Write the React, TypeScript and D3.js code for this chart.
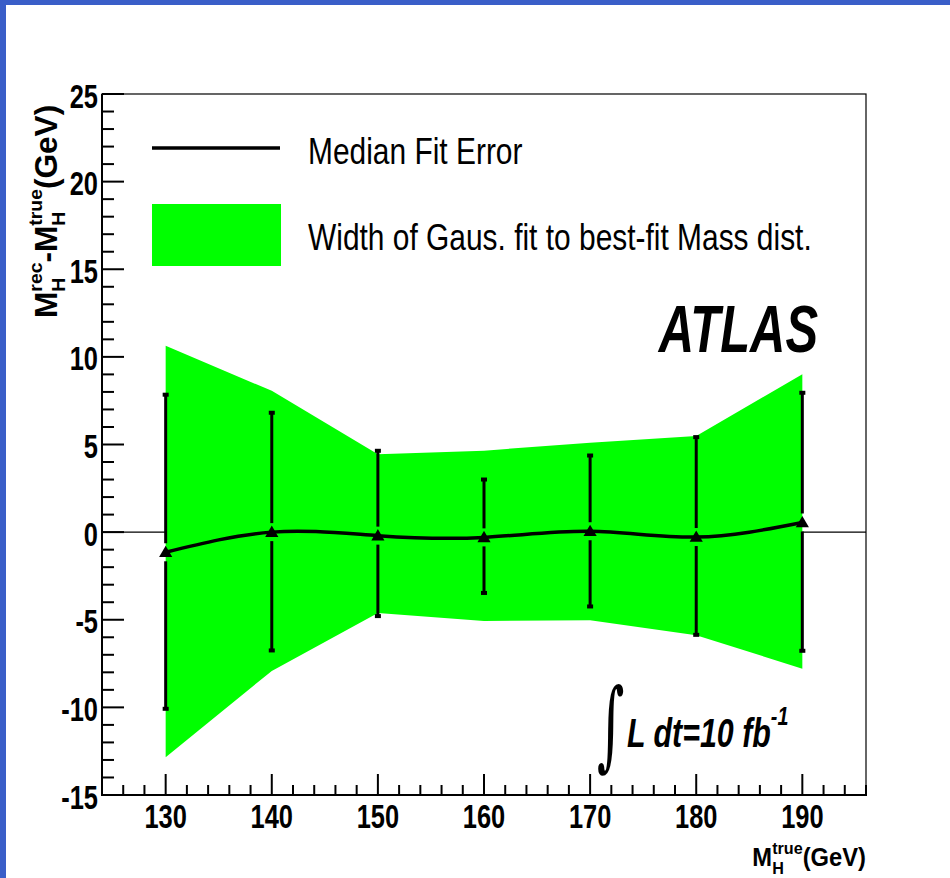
import React, { useEffect, useRef } from 'react';
import * as d3 from 'd3';

// ---- data ----
const masses = [130, 140, 150, 160, 170, 180, 190];
const medianShift = [-1.15, 0.0, -0.2, -0.3, 0.05, -0.28, 0.55];
const errUp = [7.87, 6.84, 4.67, 3.03, 4.4, 5.45, 7.98];
const errDown = [-10.11, -6.78, -4.82, -3.5, -4.27, -5.89, -6.8];
const bandUp = [10.63, 8.06, 4.44, 4.65, 5.1, 5.49, 9.01];
const bandDown = [-12.84, -7.92, -4.61, -5.07, -5.03, -5.89, -7.79];
const xTicks = [130, 140, 150, 160, 170, 180, 190];
const yTicks = [-15, -10, -5, 0, 5, 10, 15, 20, 25];
const xDomain = [124, 196];
const yDomain = [-15, 25];
const legendLabels = ['Median Fit Error', 'Width of Gaus. fit to best-fit Mass dist.'];

const W = 950;
const H = 878;
const FONT = "'Liberation Sans', Arial, Helvetica, sans-serif";
const GREEN = '#00ff00';

export default function App() {
  const ref = useRef<SVGSVGElement>(null);

  useEffect(() => {
    const svg = d3.select(ref.current);
    svg.selectAll('*').remove();

    const L = 102, R = 866, T = 94, B = 795;
    const x = d3.scaleLinear().domain(xDomain).range([L, R]);
    const y = d3.scaleLinear().domain(yDomain).range([B, T]);

    // page frame (blue slide border)
    svg.append('rect').attr('x', 0).attr('y', 0).attr('width', W).attr('height', H).attr('fill', '#fff');
    svg.append('rect').attr('x', 0).attr('y', 0).attr('width', W).attr('height', 5).attr('fill', '#3a5ec8');
    svg.append('rect').attr('x', 0).attr('y', 0).attr('width', 6).attr('height', H).attr('fill', '#3a5ec8');

    // zero line (under the band)
    svg.append('line')
      .attr('x1', L).attr('x2', R).attr('y1', y(0)).attr('y2', y(0))
      .attr('stroke', '#000').attr('stroke-width', 1.3);

    const data = masses.map((m, i) => ({
      m, med: medianShift[i], eu: errUp[i], ed: errDown[i], bu: bandUp[i], bd: bandDown[i],
    }));

    // green band
    const area = d3.area<any>()
      .x(d => x(d.m))
      .y0(d => y(d.bd))
      .y1(d => y(d.bu))
      .curve(d3.curveLinear);
    svg.append('path').attr('d', area(data)!).attr('fill', GREEN).attr('stroke', 'none');

    // error bars with gap around the marker
    const gap = 9;
    const eb = svg.append('g');
    data.forEach(d => {
      const cx = x(d.m), cy = y(d.med);
      eb.append('line').attr('x1', cx).attr('x2', cx).attr('y1', y(d.eu)).attr('y2', cy - gap)
        .attr('stroke', '#000').attr('stroke-width', 3);
      eb.append('line').attr('x1', cx).attr('x2', cx).attr('y1', cy + gap).attr('y2', y(d.ed))
        .attr('stroke', '#000').attr('stroke-width', 3);
      eb.append('rect').attr('x', cx - 3).attr('y', y(d.eu) - 1.5).attr('width', 6).attr('height', 4).attr('fill', '#000');
      eb.append('rect').attr('x', cx - 3).attr('y', y(d.ed) - 2.5).attr('width', 6).attr('height', 4).attr('fill', '#000');
    });

    // smooth median curve
    const line = d3.line<any>().x(d => x(d.m)).y(d => y(d.med)).curve(d3.curveNatural);
    svg.append('path').attr('d', line(data)!).attr('fill', 'none').attr('stroke', '#000').attr('stroke-width', 3.5);

    // triangle markers
    const tri = d3.symbol().type(d3.symbolTriangle).size(75);
    svg.append('g').selectAll('path').data(data).join('path')
      .attr('d', tri()!)
      .attr('transform', d => `translate(${x(d.m)},${y(d.med) + 1})`)
      .attr('fill', '#000');

    // frame
    svg.append('rect').attr('x', L).attr('y', T).attr('width', R - L).attr('height', B - T)
      .attr('fill', 'none').attr('stroke', '#000').attr('stroke-width', 1.2);
    svg.append('line').attr('x1', L).attr('x2', L).attr('y1', T).attr('y2', B + 1)
      .attr('stroke', '#000').attr('stroke-width', 2);
    svg.append('line').attr('x1', L - 1).attr('x2', R + 1).attr('y1', B).attr('y2', B)
      .attr('stroke', '#000').attr('stroke-width', 2);

    // y ticks
    const yMinor = d3.range(yDomain[0], yDomain[1] + 1, 1);
    svg.append('g').selectAll('line').data(yMinor).join('line')
      .attr('x1', L).attr('x2', d => L + (d % 5 === 0 ? 22 : 12))
      .attr('y1', d => y(d)).attr('y2', d => y(d))
      .attr('stroke', '#000').attr('stroke-width', 2);
    // x ticks
    const xMinor = d3.range(xDomain[0], xDomain[1] + 1, 2);
    svg.append('g').selectAll('line').data(xMinor).join('line')
      .attr('x1', d => x(d)).attr('x2', d => x(d))
      .attr('y1', B).attr('y2', d => B - (d % 10 === 0 ? 21 : 10))
      .attr('stroke', '#000').attr('stroke-width', 2);

    // tick labels
    const tickFont = 33, tickScale = 0.77;
    svg.append('g').selectAll('text').data(yTicks).join('text')
      .attr('transform', d => `translate(98,${y(d) + 13.5}) scale(${tickScale},1)`)
      .attr('text-anchor', 'end')
      .attr('font-family', FONT).attr('font-weight', 'bold').attr('font-size', tickFont)
      .text(d => String(d));
    svg.append('g').selectAll('text').data(xTicks).join('text')
      .attr('transform', d => `translate(${x(d)},828) scale(${tickScale},1)`)
      .attr('text-anchor', 'middle')
      .attr('font-family', FONT).attr('font-weight', 'bold').attr('font-size', tickFont)
      .text(d => String(d));

    // helper for sequential titles with stacked sub/superscripts
    function buildTitle(g: any, pieces: any[], main: number, small: number, supDy: number, subDy: number) {
      let u = 0;
      pieces.forEach(p => {
        if (typeof p === 'string') {
          const t = g.append('text').attr('x', u).attr('y', 0)
            .attr('font-family', FONT).attr('font-weight', 'bold').attr('font-size', main).text(p);
          u += (t.node() as SVGTextElement).getComputedTextLength();
        } else {
          const a = g.append('text').attr('x', u).attr('y', supDy)
            .attr('font-family', FONT).attr('font-weight', 'bold').attr('font-size', small).text(p.sup);
          const b = g.append('text').attr('x', u).attr('y', subDy)
            .attr('font-family', FONT).attr('font-weight', 'bold').attr('font-size', small).text(p.sub);
          u += Math.max((a.node() as SVGTextElement).getComputedTextLength(), (b.node() as SVGTextElement).getComputedTextLength());
        }
      });
      return u;
    }

    // y title (rotated)
    const yt = svg.append('g').attr('transform', 'translate(57,318) rotate(-90) scale(1.02,1)');
    buildTitle(yt, ['M', { sup: 'rec', sub: 'H' }, '-', 'M', { sup: 'true', sub: 'H' }, '(GeV)'], 31, 19, -15, 8);

    // x title (right aligned at R)
    const xt = svg.append('g');
    const wx = buildTitle(xt, ['M', { sup: 'true', sub: 'H' }, '(GeV)'], 25, 17, -12, 8);
    const sx = 0.95;
    xt.attr('transform', `translate(${R - wx * sx},866) scale(${sx},1)`);

    // legend
    svg.append('line').attr('x1', 152).attr('x2', 280).attr('y1', 148).attr('y2', 148)
      .attr('stroke', '#000').attr('stroke-width', 3.5);
    svg.append('rect').attr('x', 152).attr('y', 204).attr('width', 129).attr('height', 62).attr('fill', GREEN);
    [164, 250].forEach((by, i) => {
      svg.append('text').attr('transform', `translate(308,${by}) scale(0.82,1)`)
        .attr('font-family', FONT).attr('font-size', 36.5).text(legendLabels[i]);
    });

    // ATLAS label
    svg.append('text').attr('transform', 'translate(818,352) scale(0.73,1)')
      .attr('text-anchor', 'end')
      .attr('font-family', FONT).attr('font-weight', 'bold').attr('font-style', 'italic').attr('font-size', 67)
      .text('ATLAS');

    // luminosity label
    svg.append('text').attr('transform', 'translate(597,758) scale(0.55,1.02)')
      .attr('font-family', "'DejaVu Serif', serif").attr('font-size', 96)
      .text('∫');
    const lum = svg.append('text').attr('transform', 'translate(627,747) scale(0.76,1)')
      .attr('font-family', FONT).attr('font-weight', 'bold').attr('font-style', 'italic').attr('font-size', 40);
    lum.append('tspan').text('L dt=10 fb');
    lum.append('tspan').attr('font-size', 26).attr('dy', -22).text('-1');
  }, []);

  return (
    <svg ref={ref} width={W} height={H} viewBox={`0 0 ${W} ${H}`}
      style={{ position: 'absolute', left: 0, top: 0, display: 'block' }} />
  );
}
